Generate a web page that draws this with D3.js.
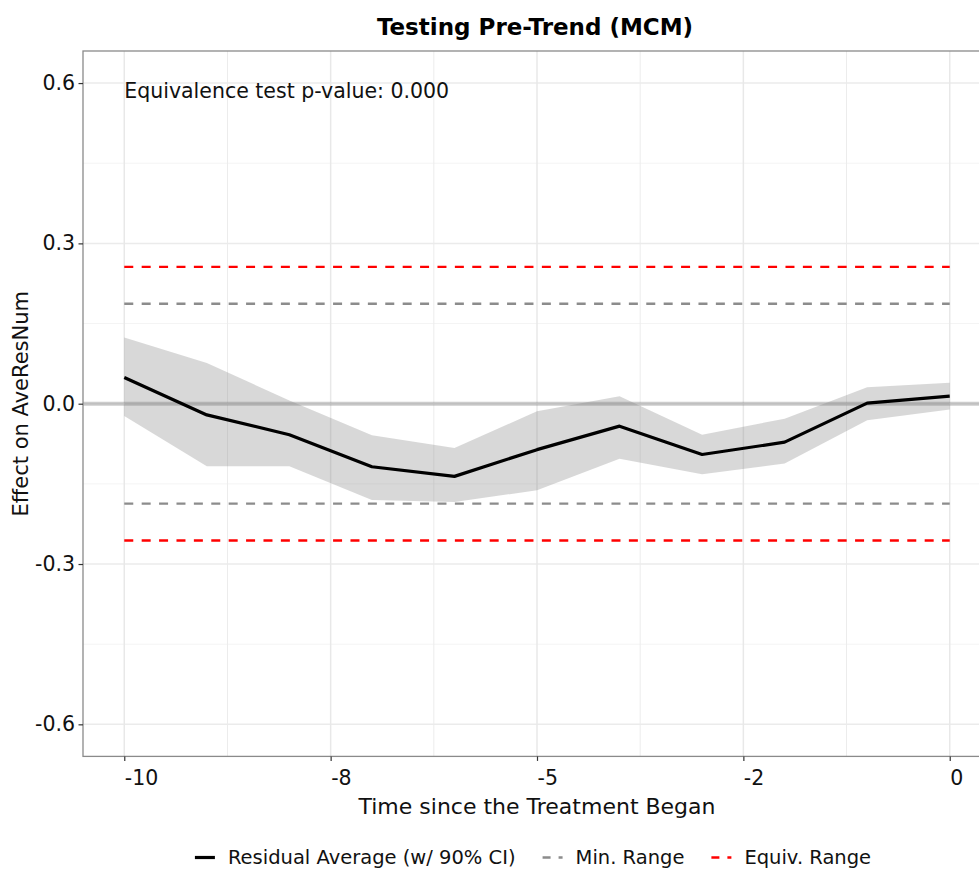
<!DOCTYPE html>
<html>
<head>
<meta charset="utf-8">
<script src="https://cdn.jsdelivr.net/npm/d3@7"></script>
<style>
  html, body { margin: 0; padding: 0; background: #fff; }
  svg { display: block; font-family: "DejaVu Sans", sans-serif; }
</style>
</head>
<body>
<svg id="chart" width="979" height="870"></svg>
<script>
// Pre-treatment periods and residual averages with 90% confidence bounds
const periods   = [-10, -9, -8, -7, -6, -5, -4, -3, -2, -1, 0];
const estimate  = [0.049, -0.021, -0.058, -0.118, -0.136, -0.086, -0.042, -0.095, -0.072, 0.001, 0.014];
const ciLower   = [-0.023, -0.117, -0.117, -0.180, -0.184, -0.162, -0.103, -0.132, -0.112, -0.031, -0.011];
const ciUpper   = [0.124, 0.076, 0.006, -0.059, -0.083, -0.014, 0.014, -0.058, -0.028, 0.031, 0.039];

// Reference bands
const minRange   = 0.187;
const equivRange = 0.256;

// Axis ticks
const xTickValues = [-10, -7.5, -5, -2.5, 0];
const xTickLabels = ["-10", "-8", "-5", "-2", "0"];
const xMinorTicks = [-8.75, -6.25, -3.75, -1.25];
const yTickValues = [-0.6, -0.3, 0, 0.3, 0.6];
const yMinorTicks = [-0.45, -0.15, 0.15, 0.45];

const chartTitle  = "Testing Pre-Trend (MCM)";
const xTitle      = "Time since the Treatment Began";
const yTitle      = "Effect on AveResNum";
const annotation  = "Equivalence test p-value: 0.000";
const legendItems = [
  { label: "Residual Average (w/ 90% CI)", color: "#000000", dash: null, width: 3.2 },
  { label: "Min. Range",   color: "#8c8c8c", dash: "8,8", width: 2.4 },
  { label: "Equiv. Range", color: "#ff0000", dash: "8,8", width: 2.4 }
];

const svg = d3.select("#chart");
const panel = { left: 83, right: 991, top: 51, bottom: 756.4 };

const x = d3.scaleLinear().domain([-10.5, 0.5]).range([panel.left, panel.right]);
const y = d3.scaleLinear().domain([-0.66, 0.66]).range([panel.bottom, panel.top]);

const FONT_AXIS = 20.5;

// Panel background and grid
const grid = svg.append("g");
grid.selectAll("line.ymin").data(yMinorTicks).join("line")
  .attr("x1", panel.left).attr("x2", panel.right)
  .attr("y1", d => y(d)).attr("y2", d => y(d))
  .attr("stroke", "#f4f4f4").attr("stroke-width", 1);
grid.selectAll("line.xmin").data(xMinorTicks).join("line")
  .attr("x1", d => x(d)).attr("x2", d => x(d))
  .attr("y1", panel.top).attr("y2", panel.bottom)
  .attr("stroke", "#ececec").attr("stroke-width", 1);
grid.selectAll("line.ymaj").data(yTickValues).join("line")
  .attr("x1", panel.left).attr("x2", panel.right)
  .attr("y1", d => y(d)).attr("y2", d => y(d))
  .attr("stroke", "#ebebeb").attr("stroke-width", 1.5);
grid.selectAll("line.xmaj").data(xTickValues).join("line")
  .attr("x1", d => x(d)).attr("x2", d => x(d))
  .attr("y1", panel.top).attr("y2", panel.bottom)
  .attr("stroke", "#e8e8e8").attr("stroke-width", 1.5);

// Confidence ribbon
const ribbon = d3.area()
  .x((d, i) => x(periods[i]))
  .y0((d, i) => y(ciLower[i]))
  .y1((d, i) => y(ciUpper[i]));
svg.append("path")
  .datum(periods)
  .attr("d", ribbon)
  .attr("fill", "#7f7f7f")
  .attr("fill-opacity", 0.3);

// Zero reference line
svg.append("line")
  .attr("x1", panel.left).attr("x2", panel.right)
  .attr("y1", y(0)).attr("y2", y(0))
  .attr("stroke", "#7f7f7f").attr("stroke-opacity", 0.4)
  .attr("stroke-width", 4);

// Range lines
const rangeLines = [
  { v:  equivRange, color: "#ff0000" },
  { v: -equivRange, color: "#ff0000" },
  { v:  minRange,   color: "#8c8c8c" },
  { v: -minRange,   color: "#8c8c8c" }
];
svg.selectAll("line.range").data(rangeLines).join("line")
  .attr("class", "range")
  .attr("x1", x(periods[0])).attr("x2", x(periods[periods.length - 1]))
  .attr("y1", d => y(d.v)).attr("y2", d => y(d.v))
  .attr("stroke", d => d.color)
  .attr("stroke-width", 2.4)
  .attr("stroke-dasharray", "9,8.4");

// Residual average line
const line = d3.line()
  .x((d, i) => x(periods[i]))
  .y((d, i) => y(estimate[i]));
svg.append("path")
  .datum(periods)
  .attr("d", line)
  .attr("fill", "none")
  .attr("stroke", "#000")
  .attr("stroke-width", 3.2)
  .attr("stroke-linejoin", "round");

// Panel border (right side lies beyond the drawing area)
svg.append("rect")
  .attr("x", panel.left).attr("y", panel.top)
  .attr("width", panel.right - panel.left)
  .attr("height", panel.bottom - panel.top)
  .attr("fill", "none")
  .attr("stroke", "#8a8a8a")
  .attr("stroke-width", 1.3);

// Axes
const xAxis = d3.axisBottom(x)
  .tickValues(xTickValues)
  .tickFormat((d, i) => xTickLabels[i])
  .tickSize(4.5)
  .tickPadding(9.5);
const gx = svg.append("g")
  .attr("transform", `translate(0,${panel.bottom})`)
  .call(xAxis);
gx.select(".domain").remove();
gx.selectAll(".tick line").attr("stroke", "#333").attr("stroke-width", 1.2);
gx.selectAll(".tick text")
  .attr("text-anchor", "start")
  .attr("fill", "#111")
  .style("font-size", FONT_AXIS + "px")
  .style("font-family", "DejaVu Sans");

const yAxis = d3.axisLeft(y)
  .tickValues(yTickValues)
  .tickFormat(d => d.toFixed(1))
  .tickSize(4.5)
  .tickPadding(3.5);
const gy = svg.append("g")
  .attr("transform", `translate(${panel.left},0)`)
  .call(yAxis);
gy.select(".domain").remove();
gy.selectAll(".tick line").attr("stroke", "#333").attr("stroke-width", 1.2);
gy.selectAll(".tick text")
  .attr("fill", "#111")
  .style("font-size", FONT_AXIS + "px")
  .style("font-family", "DejaVu Sans");

// Titles
svg.append("text")
  .attr("x", 535).attr("y", 35)
  .attr("text-anchor", "middle")
  .style("font-size", "23px").style("font-weight", "bold")
  .text(chartTitle);

svg.append("text")
  .attr("x", 537).attr("y", 814)
  .attr("text-anchor", "middle")
  .style("font-size", "22px")
  .attr("fill", "#111")
  .text(xTitle);

svg.append("text")
  .attr("transform", `translate(28,${(panel.top + panel.bottom) / 2}) rotate(-90)`)
  .attr("text-anchor", "middle")
  .style("font-size", "21px")
  .attr("fill", "#111")
  .text(yTitle);

// Test annotation
svg.append("text")
  .attr("x", x(-10)).attr("y", 98)
  .style("font-size", "20.5px")
  .attr("fill", "#111")
  .text(annotation);

// Legend
const legend = svg.append("g");
const keyLen = 20, keyGap = 13, itemGap = 27, legendY = 857.5;
const items = legend.selectAll("g").data(legendItems).join("g");
items.append("line")
  .attr("x1", 0).attr("x2", keyLen)
  .attr("y1", legendY).attr("y2", legendY)
  .attr("stroke", d => d.color)
  .attr("stroke-width", d => d.width)
  .attr("stroke-dasharray", d => d.dash);
items.append("text")
  .attr("x", keyLen + keyGap).attr("y", legendY + 6.5)
  .style("font-size", "19.5px")
  .attr("fill", "#111")
  .text(d => d.label);
let offset = 0;
const widths = [];
items.each(function() {
  const w = d3.select(this).select("text").node().getComputedTextLength();
  widths.push(keyLen + keyGap + w);
});
const total = d3.sum(widths) + itemGap * (widths.length - 1);
let cursor = 533 - total / 2;
items.attr("transform", (d, i) => {
  const t = `translate(${cursor},0)`;
  cursor += widths[i] + itemGap;
  return t;
});
</script>
</body>
</html>
